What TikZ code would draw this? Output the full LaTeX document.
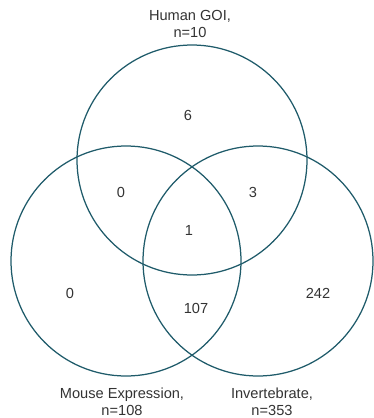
\documentclass[tikz,border=0pt]{standalone}
\usepackage{fontspec}
\setmainfont{Liberation Sans}
\usetikzlibrary{positioning}
\definecolor{setline}{HTML}{1F5B6A}
\definecolor{txtgray}{HTML}{333333}
\tikzset{
  set/.style={draw=setline,line width=1.25pt},
  count/.style={text=txtgray,inner sep=0pt,font=\fontsize{14.6}{17}\selectfont},
  setname/.style={text=txtgray,align=center,inner sep=0pt,font=\fontsize{14.6}{17}\selectfont}
}

\begin{document}
\begin{tikzpicture}[x=1pt,y=-1pt]
  \useasboundingbox (0,0) rectangle (373,418);
  % the three sets
  \draw[set] (192,160) circle[radius=115pt];
  \draw[set] (126,261) circle[radius=115pt];
  \draw[set] (258,261) circle[radius=115pt];
  % set names
  \node[setname] (human) at (190,23.5) {Human GOI,\\n=10};
  \node[setname] (mouse) at (122,402) {Mouse Expression,\\n=108};
  \node[setname] (invert) at (272,402) {Invertebrate,\\n=353};
  % counts
  \node[count] (hOnly) at (188,115.5) {6};
  \node[count] (hm) at (121,192) {0};
  \node[count] (hi) at (253,192) {3};
  \node[count] (all) at (189,230.5) {1};
  \node[count] (mOnly) at (70,293) {0};
  \node[count] (mi) at (196,308) {107};
  \node[count] (iOnly) at (318,293) {242};
\end{tikzpicture}
\end{document}
